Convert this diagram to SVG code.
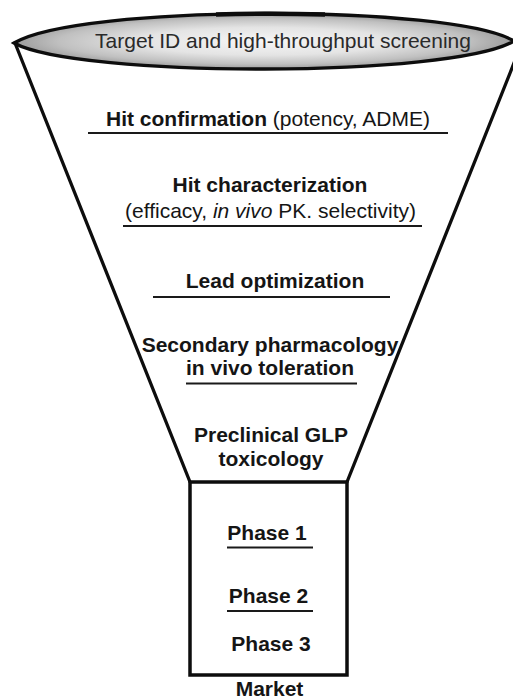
<svg xmlns="http://www.w3.org/2000/svg" width="513" height="699" viewBox="0 0 513 699">
  <defs>
    <radialGradient id="rimFill" cx="0.5" cy="0.5" r="0.5">
      <stop offset="0" stop-color="#f6f6f6"/>
      <stop offset="0.5" stop-color="#e4e4e4"/>
      <stop offset="0.82" stop-color="#c0c0c0"/>
      <stop offset="1" stop-color="#9c9c9c"/>
    </radialGradient>
    <style>
      text { font-family: "Liberation Sans", Arial, Helvetica, sans-serif; font-size: 21px; fill: #151515; text-anchor: middle; }
      .b { font-weight: bold; }
      .rule { stroke: #1a1a1a; stroke-width: 2; fill: none; }
      .wall { stroke: #0d0d0d; stroke-width: 3.3; fill: none; stroke-linecap: round; }
    </style>
  </defs>

  <rect width="513" height="699" fill="#ffffff"/>

  <!-- funnel walls and lower column -->
  <g id="funnel">
    <line class="wall" x1="15" y1="43" x2="190" y2="482"/>
    <line class="wall" x1="522" y1="43" x2="347" y2="482"/>
    <rect x="190" y="482" width="157" height="193" fill="none" stroke="#0d0d0d" stroke-width="3.5"/>
  </g>

  <!-- funnel mouth -->
  <g id="target-screening">
    <path d="M14,43 C78,4 452,4 514,41 C452,78 78,78 14,43 Z" fill="url(#rimFill)" stroke="#0d0d0d" stroke-width="3.3"/>
    <path d="M216,14.6 Q270,13 325,14.6" fill="none" stroke="#0d0d0d" stroke-width="4.5"/>
    <text x="283" y="48" style="fill:#2a2a2a">Target ID and high-throughput screening</text>
  </g>

  <g id="hit-confirmation">
    <text x="268" y="126"><tspan class="b">Hit confirmation</tspan> (potency, ADME)</text>
    <line class="rule" x1="88" y1="133" x2="448" y2="133"/>
  </g>

  <g id="hit-characterization">
    <text x="270" y="192" class="b">Hit characterization</text>
    <text x="270.5" y="218">(efficacy, <tspan font-style="italic">in vivo</tspan> PK. selectivity)</text>
    <line class="rule" x1="123" y1="226" x2="422" y2="226"/>
  </g>

  <g id="lead-optimization">
    <text x="275" y="288" class="b">Lead optimization</text>
    <line class="rule" x1="153" y1="297" x2="390" y2="297"/>
  </g>

  <g id="secondary-pharmacology">
    <text x="270" y="352" class="b">Secondary pharmacology</text>
    <text x="270" y="375" class="b">in vivo toleration</text>
    <line class="rule" x1="186" y1="383.5" x2="357" y2="383.5"/>
  </g>

  <g id="preclinical-toxicology">
    <text x="271" y="442" class="b">Preclinical GLP</text>
    <text x="271" y="466" class="b">toxicology</text>
  </g>

  <g id="phase-1">
    <text x="267" y="540" class="b">Phase 1</text>
    <line class="rule" x1="227" y1="547.5" x2="313" y2="547.5"/>
  </g>

  <g id="phase-2">
    <text x="268.5" y="603" class="b">Phase 2</text>
    <line class="rule" x1="227" y1="611" x2="313" y2="611"/>
  </g>

  <g id="phase-3">
    <text x="271" y="651" class="b">Phase 3</text>
  </g>

  <g id="market">
    <text x="269.5" y="696" class="b">Market</text>
  </g>

  <g id="connectors"/>
</svg>
